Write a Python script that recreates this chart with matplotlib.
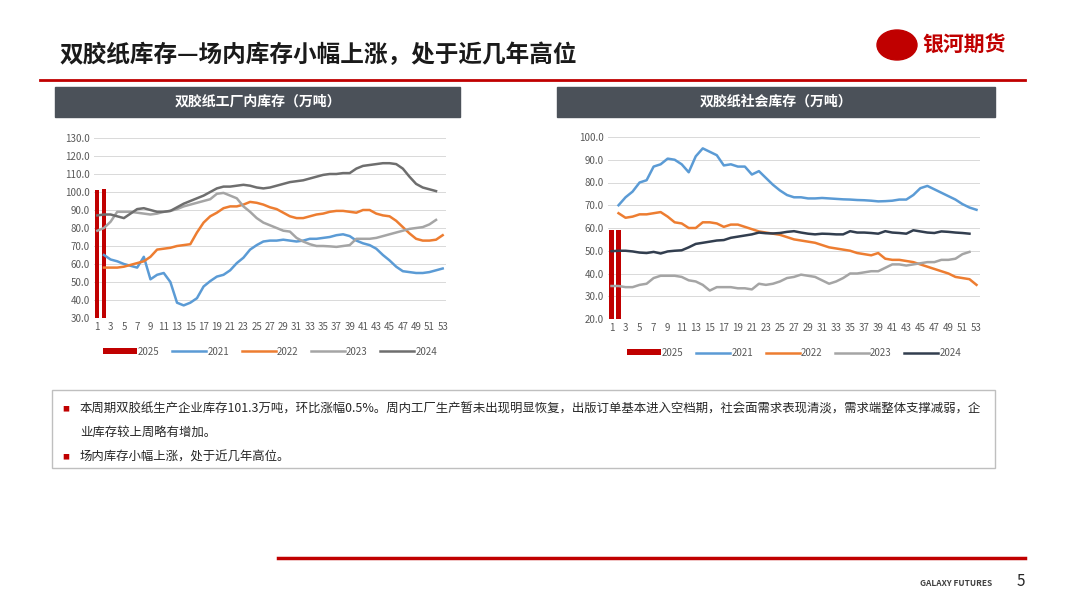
import matplotlib
matplotlib.use("Agg")
import matplotlib.pyplot as plt
from matplotlib.patches import Rectangle, Ellipse

plt.rcParams["font.family"] = ["Noto Sans CJK SC", "DejaVu Sans"]

weeks = list(range(1, 54))

# left chart: factory inventory (10k t)
l_2025 = [101.0, 101.5]
l_2021 = [65, 62.5, 61.5, 60, 59, 58, 64, 51.5, 54, 55, 50, 38.5, 37, 38.5, 41, 47.5,
          50.5, 53, 54, 56.5, 60.5, 63.5, 68, 70.5, 72.5, 73, 73, 73.5, 73, 72.5, 73, 74,
          74, 74.5, 75, 76, 76.5, 75.5, 73, 71.5, 70.5, 68.5, 65, 62, 58.5, 56, 55.5, 55,
          55, 55.5, 56.5, 57.5]
l_2022 = [58, 58, 58, 58.5, 59.5, 60.5, 61.5, 64, 68, 68.5, 69, 70, 70.5, 71, 77.5, 83,
          86.5, 88.5, 91, 92, 92, 93, 94.5, 94, 93, 91.5, 90.5, 88.5, 86.5, 85.5, 85.5, 86.5,
          87.5, 88, 89, 89.5, 89.5, 89, 88.5, 90, 90, 88, 87, 86.5, 84, 80.5, 77, 74, 73,
          73, 73.5, 76]
l_2023 = [78.5, 80, 83.5, 89, 89, 89, 88.5, 88, 87.5, 88, 89, 89.5, 90.5, 92, 93, 94, 95,
          96, 99, 99.5, 98, 96.5, 92, 89, 85.5, 83, 81.5, 80, 78.5, 78, 74.5, 72.5, 71, 70,
          70, 69.8, 69.5, 70, 70.5, 74, 74, 74, 74.5, 75.5, 76.5, 77.5, 78.5, 79.5, 80, 80.5,
          82, 84.5]
l_2024 = [87, 87.5, 87.5, 86.5, 85.5, 88, 90.5, 91, 90, 89, 89, 89.5, 91.5, 93.5, 95, 96.5,
          98, 100, 102, 103, 103, 103.5, 104, 103.5, 102.5, 102, 102.5, 103.5, 104.5, 105.5,
          106, 106.5, 107.5, 108.5, 109.5, 110, 110, 110.5, 110.5, 113, 114.5, 115, 115.5,
          116, 116, 115.5, 113, 108.5, 104.5, 102.5, 101.5, 100.5]

# right chart: social inventory (10k t)
r_2025 = [59, 59]
r_2021 = [70, 73.5, 76, 80, 81, 87, 88, 90.5, 90, 88, 84.5, 91.5, 95, 93.5, 92, 87.5, 88,
          87, 87, 83.5, 85, 82, 79, 76.5, 74.5, 73.5, 73.5, 73, 73, 73.2, 73, 72.8, 72.6,
          72.5, 72.3, 72.2, 72, 71.7, 71.8, 72, 72.5, 72.5, 74.5, 77.5, 78.5, 77, 75.5, 74,
          72.5, 70.5, 69, 68]
r_2022 = [66.5, 64.5, 65, 66, 66, 66.5, 67, 65, 62.5, 62, 60, 60, 62.5, 62.5, 62, 60.5,
          61.5, 61.5, 60.5, 59.5, 58.5, 58, 57.5, 57, 56, 55, 54.5, 54, 53.5, 52.5, 51.5, 51,
          50.5, 50, 49, 48.5, 48, 49, 46.5, 46, 46, 45.5, 45, 44, 43, 42, 41, 40, 38.5, 38,
          37.5, 35]
r_2023 = [34.5, 34.5, 34, 34, 35, 35.5, 38, 39, 39, 39, 38.5, 37, 36.5, 35, 32.5, 34, 34, 34,
          33.5, 33.5, 33, 35.5, 35, 35.5, 36.5, 38, 38.5, 39.5, 39, 38.5, 37, 35.5, 36.5, 38,
          40, 40, 40.5, 41, 41, 42.5, 44, 44, 43.5, 44, 44.5, 45, 45, 46, 46, 46.5, 48.5, 49.5]
r_2024 = [49.8, 50, 50, 49.7, 49.2, 49, 49.5, 48.8, 49.7, 50, 50.2, 51.5, 53, 53.5, 54, 54.5,
          54.7, 55.7, 56.2, 56.7, 57.2, 58, 57.7, 57.6, 57.8, 58.3, 58.6, 58, 57.5, 57.2, 57.5,
          57.4, 57.2, 57.2, 58.6, 58, 58, 57.8, 57.5, 58.6, 58, 57.8, 57.5, 59, 58.5, 58, 57.8,
          58.5, 58.3, 58, 57.8, 57.5]

C25, C21, C22, C23 = "#c00000", "#5b9bd5", "#ed7d31", "#a5a5a5"

fig = plt.figure(figsize=(10.8, 6.07), dpi=100)


def fx(px):
    return px / 1080


def fy(py):
    return 1 - py / 607


def chart(rect, d25, d21, d22, d23, d24, c24, ylim, yticks):
    ax = fig.add_axes(rect)
    b = ax.bar(weeks[:2], d25, width=0.6, color=C25, label="2025", zorder=2)
    h = [b]
    h += ax.plot(weeks[1:], d21, color=C21, lw=1.8, label="2021", zorder=3)
    h += ax.plot(weeks[1:], d22, color=C22, lw=1.8, label="2022", zorder=3)
    h += ax.plot(weeks[:52], d23, color=C23, lw=1.8, label="2023", zorder=3)
    h += ax.plot(weeks[:52], d24, color=c24, lw=1.8, label="2024", zorder=3)
    ax.set_xlim(0.5, 53.5)
    ax.set_ylim(*ylim)
    ax.set_yticks(yticks)
    ax.set_yticklabels([f"{v:.1f}" for v in yticks])
    ax.set_xticks(weeks[::2])
    ax.tick_params(length=0, labelsize=7, colors="#595959", pad=3)
    ax.grid(axis="y", color="#d9d9d9", lw=0.7, zorder=0)
    for s in ax.spines.values():
        s.set_visible(False)
    ax.legend(handles=h, loc="upper center", bbox_to_anchor=(0.5, -0.11), ncol=5,
              frameon=False, fontsize=7, handlelength=3.5, handleheight=0.6,
              handletextpad=0.1, columnspacing=1.3, labelcolor="#595959")
    return ax


chart([fx(94), fy(318), fx(352), 180 / 607], l_2025, l_2021, l_2022, l_2023, l_2024,
      "#6e6e6e", (30, 130), list(range(30, 131, 10)))
chart([fx(608), fy(319), fx(372), 182 / 607], r_2025, r_2021, r_2022, r_2023, r_2024,
      "#323e4f", (20, 100), list(range(20, 101, 10)))

# slide decorations
fig.text(fx(60), fy(55), "双胶纸库存—场内库存小幅上涨，处于近几年高位", fontsize=17,
         fontweight="bold", va="center", color="#1a1a1a")
fig.add_artist(plt.Line2D([fx(40), fx(1025)], [fy(80), fy(80)], color="#c00000", lw=2))
fig.add_artist(Ellipse((fx(897), fy(45)), fx(40), 30 / 607, transform=fig.transFigure,
                       color="#c00000"))
fig.text(fx(922), fy(45), "银河期货", fontsize=15, fontweight="bold", color="#c00000",
         va="center")
for x0, x1, title in [(55, 460, "双胶纸工厂内库存（万吨）"), (557, 995, "双胶纸社会库存（万吨）")]:
    fig.add_artist(Rectangle((fx(x0), fy(117)), fx(x1 - x0), 30 / 607,
                             transform=fig.transFigure, color="#4b5159"))
    fig.text(fx((x0 + x1) / 2), fy(102), title, color="white", fontsize=10,
             fontweight="bold", ha="center", va="center")

fig.add_artist(Rectangle((fx(52), fy(468)), fx(943), 78 / 607, transform=fig.transFigure,
                         fill=False, edgecolor="#bfbfbf", lw=1))
lines = [(409, "本周期双胶纸生产企业库存101.3万吨，环比涨幅0.5%。周内工厂生产暂未出现明显恢复，出版订单基本进入空档期，社会面需求表现清淡，需求端整体支撑减弱，企"),
         (432, "业库存较上周略有增加。"),
         (457, "场内库存小幅上涨，处于近几年高位。")]
for y, t in lines:
    fig.text(fx(80), fy(y), t, fontsize=8.95, va="center", color="#262626")
for y in (409, 457):
    fig.text(fx(62), fy(y), "■", fontsize=5, va="center", color="#c00000")

fig.add_artist(plt.Line2D([fx(278), fx(1025)], [fy(558), fy(558)], color="#c00000", lw=2.5))
fig.text(fx(920), fy(583), "GALAXY FUTURES", fontsize=6, va="center", color="#404040",
         fontweight="bold")
fig.text(fx(1017), fy(581), "5", fontsize=11, va="center", color="#262626")

fig.savefig("out.png", dpi=100)
